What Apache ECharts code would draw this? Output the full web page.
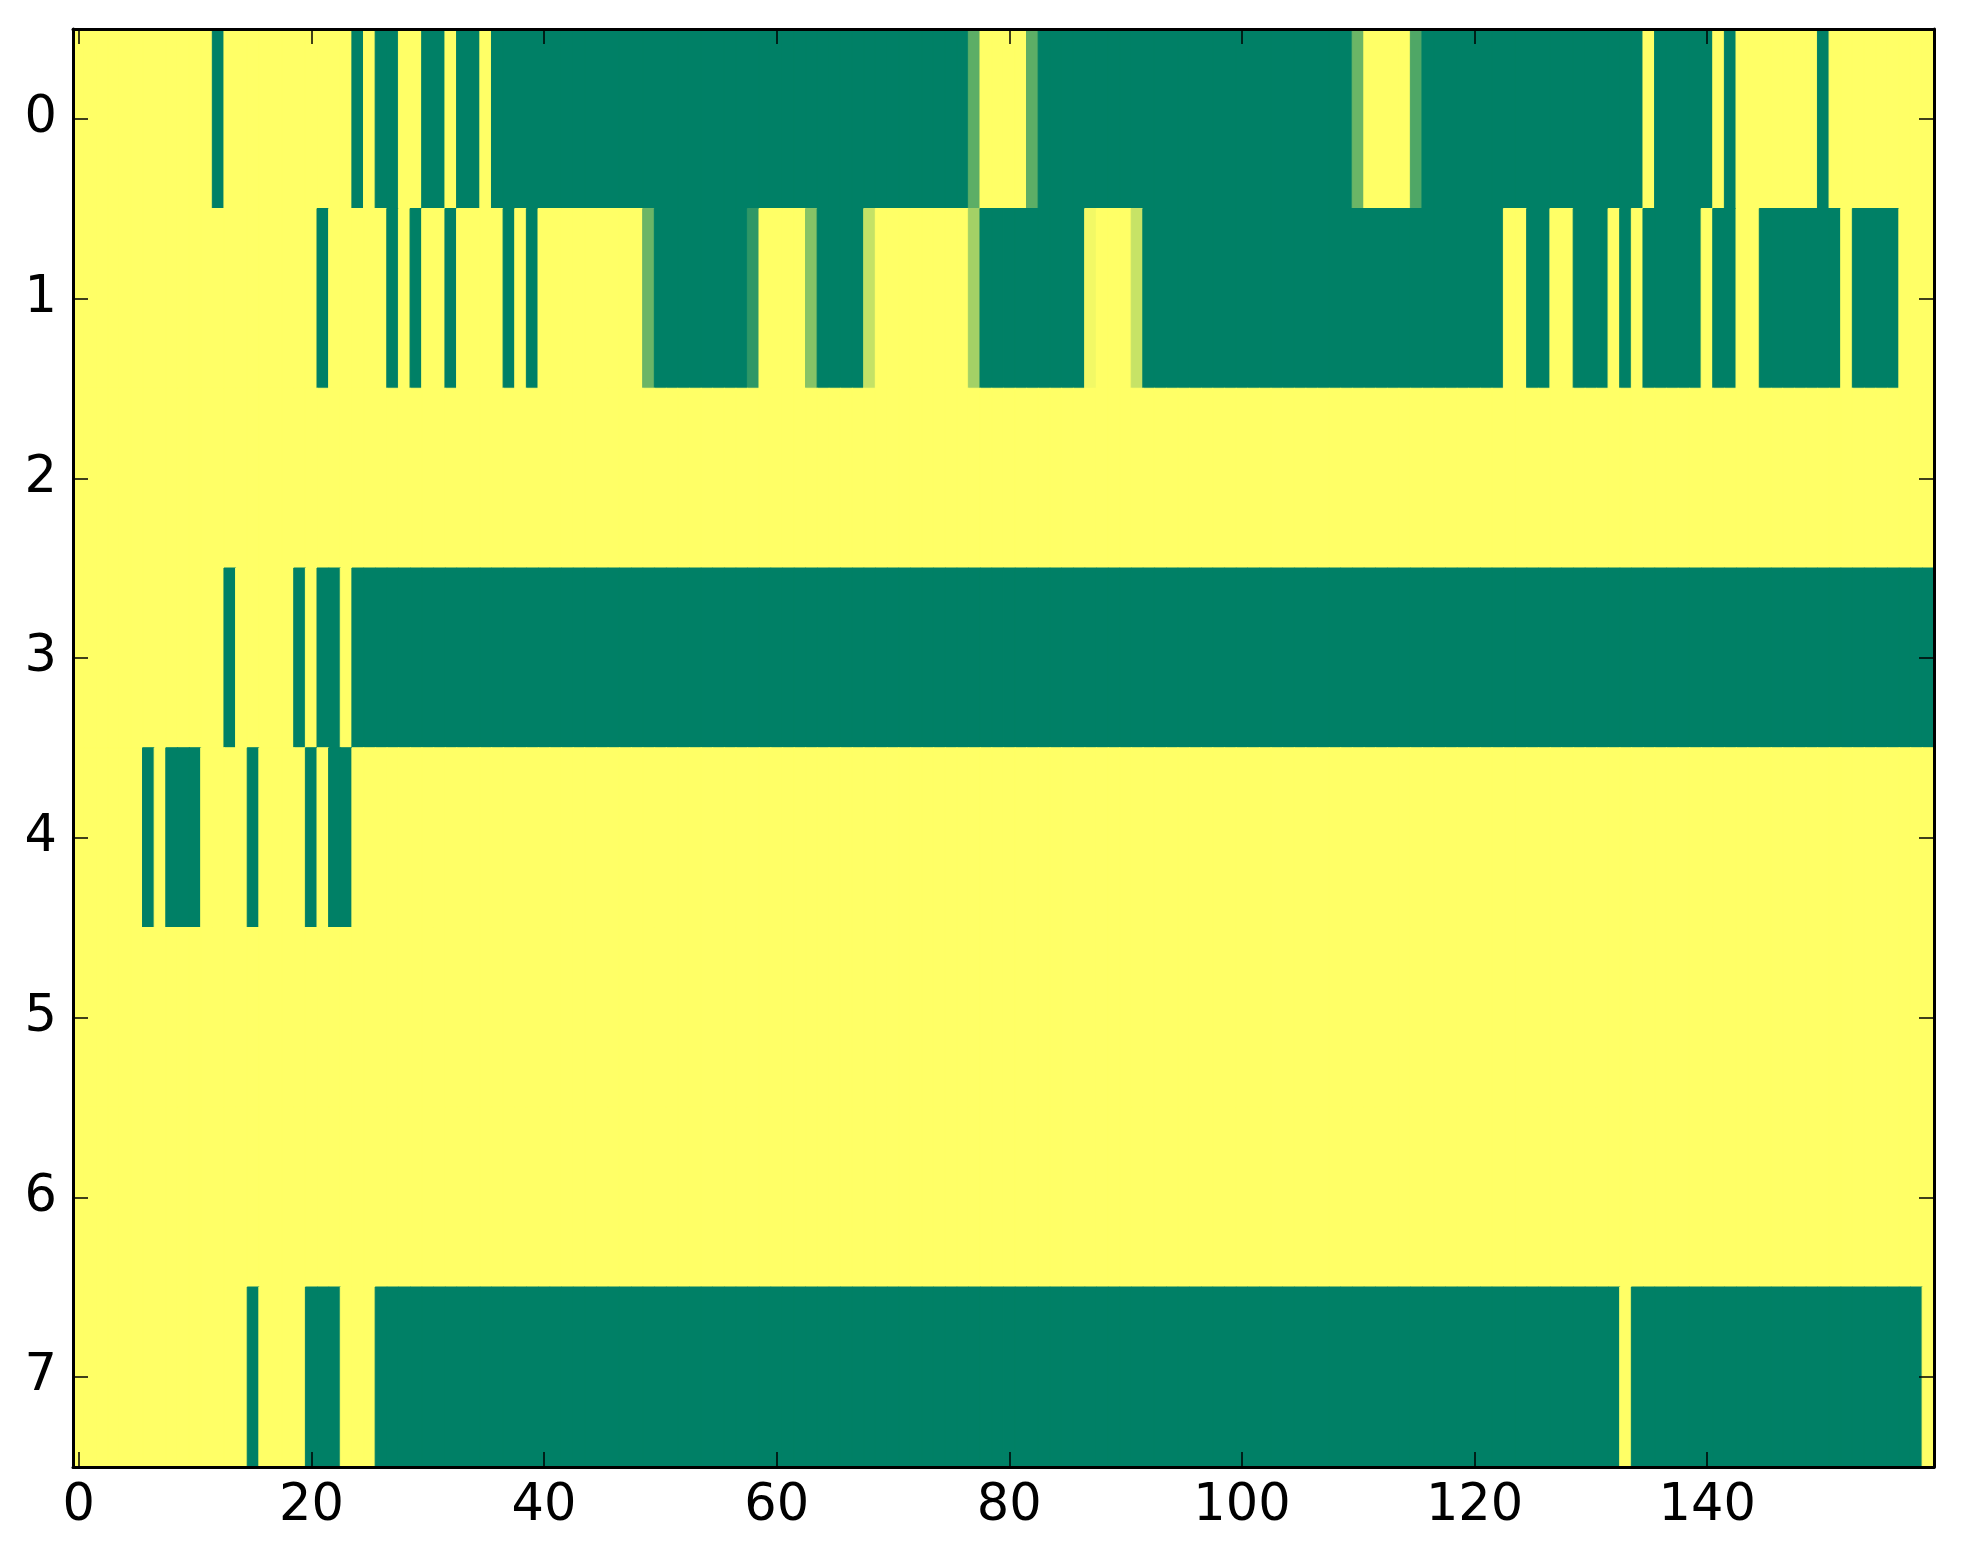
<!DOCTYPE html>
<html>
<head>
<meta charset="utf-8">
<script src="https://cdn.jsdelivr.net/npm/echarts@6/dist/echarts.min.js"></script>
<style>
html,body{margin:0;padding:0;background:#ffffff;}
#chart{width:1963px;height:1564px;}
</style>
</head>
<body>
<div id="chart"></div>
<script>
// Column categories 0..159 and row categories 0..7
var xCategories = [];
for (var i = 0; i < 160; i++) xCategories.push(String(i));
var yCategories = ['0','1','2','3','4','5','6','7'];
var xTickLabels = ['0','20','40','60','80','100','120','140'];

// Cell values (0 = green, 1 = yellow), 10 per line
var row0 = [
1,1,1,1,1,1,1,1,1,1,
1,1,0,1,1,1,1,1,1,1,
1,1,1,1,0,1,0,0,1,1,
0,0,1,0,0,1,0,0,0,0,
0,0,0,0,0,0,0,0,0,0,
0,0,0,0,0,0,0,0,0,0,
0,0,0,0,0,0,0,0,0,0,
0,0,0,0,0,0,0,0.36,1,1,
1,1,0.36,0,0,0,0,0,0,0,
0,0,0,0,0,0,0,0,0,0,
0,0,0,0,0,0,0,0,0,0,
0.42,1,1,1,1,0.31,0,0,0,0,
0,0,0,0,0,0,0,0,0,0,
0,0,0,0,0,1,0,0,0,0,
0,1,0,1,1,1,1,1,1,1,
0,1,1,1,1,1,1,1,1,1
];
var row1 = [
1,1,1,1,1,1,1,1,1,1,
1,1,1,1,1,1,1,1,1,1,
1,0,1,1,1,1,1,0,1,0,
1,1,0,1,1,1,1,0,1,0,
1,1,1,1,1,1,1,1,1,0.42,
0,0,0,0,0,0,0,0,0.18,1,
1,1,1,0.53,0,0,0,0,0.77,1,
1,1,1,1,1,1,1,0.64,0,0,
0,0,0,0,0,0,0,0.95,1,1,
1,0.78,0,0,0,0,0,0,0,0,
0,0,0,0,0,0,0,0,0,0,
0,0,0,0,0,0,0,0,0,0,
0,0,0,1,1,0,0,1,1,0,
0,0,1,0,1,0,0,0,0,0,
1,0,0,1,1,0,0,0,0,0,
0,0,1,0,0,0,0,1,1,1
];
var row2 = [
1,1,1,1,1,1,1,1,1,1, 1,1,1,1,1,1,1,1,1,1,
1,1,1,1,1,1,1,1,1,1, 1,1,1,1,1,1,1,1,1,1,
1,1,1,1,1,1,1,1,1,1, 1,1,1,1,1,1,1,1,1,1,
1,1,1,1,1,1,1,1,1,1, 1,1,1,1,1,1,1,1,1,1,
1,1,1,1,1,1,1,1,1,1, 1,1,1,1,1,1,1,1,1,1,
1,1,1,1,1,1,1,1,1,1, 1,1,1,1,1,1,1,1,1,1,
1,1,1,1,1,1,1,1,1,1, 1,1,1,1,1,1,1,1,1,1,
1,1,1,1,1,1,1,1,1,1, 1,1,1,1,1,1,1,1,1,1
];
var row3 = [
1,1,1,1,1,1,1,1,1,1,
1,1,1,0,1,1,1,1,1,0,
1,0,0,1,0,0,0,0,0,0,
0,0,0,0,0,0,0,0,0,0, 0,0,0,0,0,0,0,0,0,0,
0,0,0,0,0,0,0,0,0,0, 0,0,0,0,0,0,0,0,0,0,
0,0,0,0,0,0,0,0,0,0, 0,0,0,0,0,0,0,0,0,0,
0,0,0,0,0,0,0,0,0,0, 0,0,0,0,0,0,0,0,0,0,
0,0,0,0,0,0,0,0,0,0, 0,0,0,0,0,0,0,0,0,0,
0,0,0,0,0,0,0,0,0,0, 0,0,0,0,0,0,0,0,0,0,
0,0,0,0,0,0,0,0,0,0, 0,0,0,0,0,0,0,0,0,0,
0,0,0,0,0,0,0,0,0,0, 0,0,0,0,0,0,0,0,0,0,
0,0,0,0,0,0,0,0,0,0, 0,0,0,0,0,0,0,0,0,0,
0,0,0,0,0,0,0,0,0,0, 0,0,0,0,0,0,0,0,0,0,
0,0,0,0,0,0,0,0,0,0, 0,0,0,0,0,0,0,0,0,0,
0,0,0,0,0,0,0,0,0,0, 0,0,0,0,0,0,0,0,0,0,
0,0,0,0,0,0,0,0,0,0, 0,0,0,0,0,0,0,0,0,0
];
var row4 = [
1,1,1,1,1,1,0,1,0,0,
0,1,1,1,1,0,1,1,1,1,
0,1,0,0,1,1,1,1,1,1,
1,1,1,1,1,1,1,1,1,1, 1,1,1,1,1,1,1,1,1,1,
1,1,1,1,1,1,1,1,1,1, 1,1,1,1,1,1,1,1,1,1,
1,1,1,1,1,1,1,1,1,1, 1,1,1,1,1,1,1,1,1,1,
1,1,1,1,1,1,1,1,1,1, 1,1,1,1,1,1,1,1,1,1,
1,1,1,1,1,1,1,1,1,1, 1,1,1,1,1,1,1,1,1,1,
1,1,1,1,1,1,1,1,1,1, 1,1,1,1,1,1,1,1,1,1,
1,1,1,1,1,1,1,1,1,1, 1,1,1,1,1,1,1,1,1,1,
1,1,1,1,1,1,1,1,1,1, 1,1,1,1,1,1,1,1,1,1,
1,1,1,1,1,1,1,1,1,1, 1,1,1,1,1,1,1,1,1,1,
1,1,1,1,1,1,1,1,1,1, 1,1,1,1,1,1,1,1,1,1,
1,1,1,1,1,1,1,1,1,1, 1,1,1,1,1,1,1,1,1,1,
1,1,1,1,1,1,1,1,1,1, 1,1,1,1,1,1,1,1,1,1,
1,1,1,1,1,1,1,1,1,1, 1,1,1,1,1,1,1,1,1,1
];
var row5 = [
1,1,1,1,1,1,1,1,1,1, 1,1,1,1,1,1,1,1,1,1,
1,1,1,1,1,1,1,1,1,1, 1,1,1,1,1,1,1,1,1,1,
1,1,1,1,1,1,1,1,1,1, 1,1,1,1,1,1,1,1,1,1,
1,1,1,1,1,1,1,1,1,1, 1,1,1,1,1,1,1,1,1,1,
1,1,1,1,1,1,1,1,1,1, 1,1,1,1,1,1,1,1,1,1,
1,1,1,1,1,1,1,1,1,1, 1,1,1,1,1,1,1,1,1,1,
1,1,1,1,1,1,1,1,1,1, 1,1,1,1,1,1,1,1,1,1,
1,1,1,1,1,1,1,1,1,1, 1,1,1,1,1,1,1,1,1,1
];
var row6 = [
1,1,1,1,1,1,1,1,1,1, 1,1,1,1,1,1,1,1,1,1,
1,1,1,1,1,1,1,1,1,1, 1,1,1,1,1,1,1,1,1,1,
1,1,1,1,1,1,1,1,1,1, 1,1,1,1,1,1,1,1,1,1,
1,1,1,1,1,1,1,1,1,1, 1,1,1,1,1,1,1,1,1,1,
1,1,1,1,1,1,1,1,1,1, 1,1,1,1,1,1,1,1,1,1,
1,1,1,1,1,1,1,1,1,1, 1,1,1,1,1,1,1,1,1,1,
1,1,1,1,1,1,1,1,1,1, 1,1,1,1,1,1,1,1,1,1,
1,1,1,1,1,1,1,1,1,1, 1,1,1,1,1,1,1,1,1,1
];
var row7 = [
1,1,1,1,1,1,1,1,1,1,
1,1,1,1,1,0,1,1,1,1,
0,0,0,1,1,1,0,0,0,0,
0,0,0,0,0,0,0,0,0,0, 0,0,0,0,0,0,0,0,0,0,
0,0,0,0,0,0,0,0,0,0, 0,0,0,0,0,0,0,0,0,0,
0,0,0,0,0,0,0,0,0,0, 0,0,0,0,0,0,0,0,0,0,
0,0,0,0,0,0,0,0,0,0, 0,0,0,0,0,0,0,0,0,0,
0,0,0,0,0,0,0,0,0,0, 0,0,0,0,0,0,0,0,0,0,
0,0,0,1,0,0,0,0,0,0,
0,0,0,0,0,0,0,0,0,0,
0,0,0,0,0,0,0,0,0,1
];

// "summer" colour map end points (value 0 -> green, value 1 -> yellow)
var LOW = [0, 127.5, 102];
var HIGH = [255, 255, 102];
function mapColor(v) {
  var r = Math.round(LOW[0] + (HIGH[0] - LOW[0]) * v);
  var g = Math.round(LOW[1] + (HIGH[1] - LOW[1]) * v);
  var b = Math.round(LOW[2] + (HIGH[2] - LOW[2]) * v);
  return 'rgb(' + r + ',' + g + ',' + b + ')';
}

var rows = [row0, row1, row2, row3, row4, row5, row6, row7];
var cells = [];
for (var r = 0; r < rows.length; r++) {
  for (var c = 0; c < rows[r].length; c++) {
    var v = rows[r][c];
    cells.push({ value: [c, r, v], itemStyle: { borderColor: mapColor(v), borderWidth: 1 } });
  }
}

var FONT = 'DejaVu Sans';
function xTickShow(index) { return xTickLabels.indexOf(String(index)) >= 0; }

var axisLineStyle = { color: '#000', width: 3 };
var tickStyle = { color: '#000', width: 1.5 };

var chart = echarts.init(document.getElementById('chart'), null, { renderer: 'canvas' });
chart.setOption({
  animation: false,
  backgroundColor: '#ffffff',
  grid: { left: 73, right: 29, top: 29, bottom: 97, containLabel: false },
  visualMap: {
    show: false, type: 'continuous', min: 0, max: 1, dimension: 2,
    inRange: { color: [mapColor(0), mapColor(1)] }
  },
  xAxis: [
    {
      type: 'category', data: xCategories, position: 'bottom', z: 10,
      boundaryGap: true,
      axisLine: { show: true, lineStyle: axisLineStyle },
      axisTick: { show: true, inside: true, length: 15, alignWithLabel: true, interval: xTickShow, lineStyle: tickStyle },
      axisLabel: { show: true, interval: xTickShow, margin: 14, color: '#000', fontFamily: FONT, fontSize: 51 },
      splitLine: { show: false }
    },
    {
      type: 'category', data: xCategories, position: 'top', z: 10,
      boundaryGap: true,
      axisLine: { show: true, lineStyle: axisLineStyle },
      axisTick: { show: true, inside: true, length: 15, alignWithLabel: true, interval: xTickShow, lineStyle: tickStyle },
      axisLabel: { show: false },
      splitLine: { show: false }
    }
  ],
  yAxis: [
    {
      type: 'category', data: yCategories, position: 'left', inverse: true, z: 10,
      boundaryGap: true,
      axisLine: { show: true, lineStyle: axisLineStyle },
      axisTick: { show: true, inside: true, length: 15, alignWithLabel: true, interval: 0, lineStyle: tickStyle },
      axisLabel: { show: true, interval: 0, margin: 16, color: '#000', fontFamily: FONT, fontSize: 51 },
      splitLine: { show: false }
    },
    {
      type: 'category', data: yCategories, position: 'right', inverse: true, z: 10,
      boundaryGap: true,
      axisLine: { show: true, lineStyle: axisLineStyle },
      axisTick: { show: true, inside: true, length: 15, alignWithLabel: true, interval: 0, lineStyle: tickStyle },
      axisLabel: { show: false },
      splitLine: { show: false }
    }
  ],
  series: [{
    type: 'heatmap',
    xAxisIndex: 0, yAxisIndex: 0,
    data: cells,
    progressive: 0,
    emphasis: { disabled: true }
  }]
});
</script>
</body>
</html>
